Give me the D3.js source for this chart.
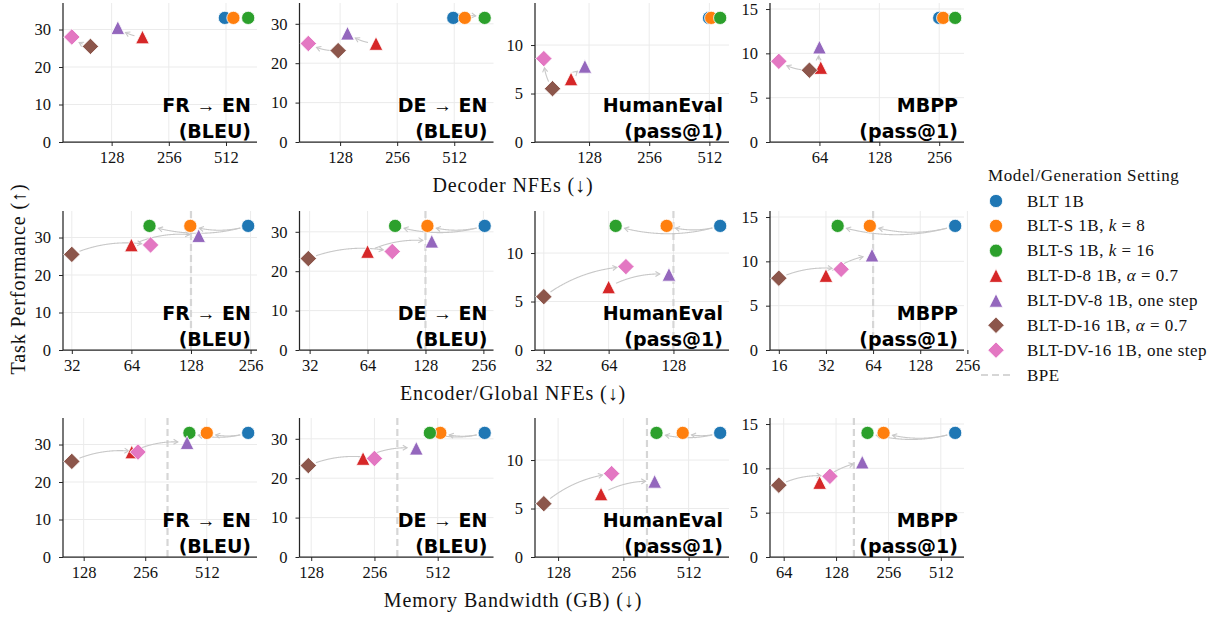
<!DOCTYPE html>
<html>
<head>
<meta charset="utf-8">
<script src="https://cdn.jsdelivr.net/npm/d3@7"></script>
<style>
  body { margin: 0; background: #fff; }
  svg { display: block; }
</style>
</head>
<body>
<svg id="chart" width="1222" height="620"></svg>
<script>
// model / generation settings, in legend order
const settings = [
  "BLT 1B",
  "BLT-S 1B, k = 8",
  "BLT-S 1B, k = 16",
  "BLT-D-8 1B, α = 0.7",
  "BLT-DV-8 1B, one step",
  "BLT-D-16 1B, α = 0.7",
  "BLT-DV-16 1B, one step"
];
const settingColors = ["#1f77b4", "#ff7f0e", "#2ca02c", "#d62728", "#9467bd", "#8c564b", "#e377c2"];
const settingShapes = ["circle", "circle", "circle", "triangle", "triangle", "diamond", "diamond"];

const taskTitles = [["FR → EN", "(BLEU)"], ["DE → EN", "(BLEU)"], ["HumanEval", "(pass@1)"], ["MBPP", "(pass@1)"]];
const rowLabels = ["Decoder NFEs (↓)", "Encoder/Global NFEs (↓)", "Memory Bandwidth (GB) (↓)"];

// task scores (same for every row)
const scoreFR = [33.1, 33.1, 33.1, 28.0, 30.5, 25.5, 28.0];
const scoreDE = [31.5, 31.5, 31.5, 25.0, 27.6, 23.2, 25.0];
const scoreHumanEval = [12.8, 12.8, 12.8, 6.5, 7.8, 5.5, 8.6];
const scoreMBPP = [14.0, 14.0, 14.0, 8.4, 10.7, 8.1, 9.1];

// decoder NFEs
const decoderFR = [505, 560, 670, 186, 138, 99, 79];
const decoderDE = [506, 582, 741, 198, 140, 125, 87];
const decoderHumanEval = [510, 523, 580, 104, 122, 84, 76];
const decoderMBPP = [256, 268, 308, 65, 64, 57, 40];

// encoder / global NFEs
const encoderFR = [249, 127, 79, 64, 140, 32, 80];
const encoderDE = [260, 131, 89, 64, 138, 31.5, 86];
const encoderHumanEval = [211, 119, 69, 64, 122, 32, 77];
const encoderMBPP = [214, 61, 38, 32, 63, 16, 40];

// memory bandwidth (GB)
const memoryFR = [816, 512, 421, 220, 410, 112, 236];
const memoryDE = [857, 527, 470, 226, 405, 124, 256];
const memoryHumanEval = [716, 481, 364, 202, 357, 110, 226];
const memoryMBPP = [619, 240, 194, 103, 181, 60, 118];

// BPE reference (null = not shown)
const bpeEncoder = [128, 128, 128, 64];
const bpeMemory = [329, 329, 329, 162];

// tick labels
const xTicksDecoder = [[128, 256, 512], [128, 256, 512], [128, 256, 512], [64, 128, 256]];
const xTicksEncoder = [[32, 64, 128, 256], [32, 64, 128, 256], [32, 64, 128], [16, 32, 64, 128, 256]];
const xTicksMemory = [[128, 256, 512], [128, 256, 512], [128, 256, 512], [64, 128, 256, 512]];
const yTicks = [[0, 10, 20, 30], [0, 10, 20, 30], [0, 5, 10], [0, 5, 10, 15]];

// arrows: [from, to] setting index
const arrowPairs = [[0, 1], [0, 2], [3, 4], [5, 6]];

const scores = [scoreFR, scoreDE, scoreHumanEval, scoreMBPP];
const rows = [
  { x: [decoderFR, decoderDE, decoderHumanEval, decoderMBPP], ticks: xTicksDecoder, bpe: [null, null, null, null] },
  { x: [encoderFR, encoderDE, encoderHumanEval, encoderMBPP], ticks: xTicksEncoder, bpe: bpeEncoder },
  { x: [memoryFR, memoryDE, memoryHumanEval, memoryMBPP], ticks: xTicksMemory, bpe: bpeMemory }
];

const panelLefts = [63, 299.5, 535, 770];
const panelTops = [3, 211, 418];
const panelW = 194;
const panelH = 139;

const serif = "'Liberation Serif', 'Times New Roman', serif";
const sans = "'DejaVu Sans', sans-serif";
const gridColor = "#ebebeb";
const spineColor = "#262626";
const arrowColor = "#c8c8c8";
const bpeColor = "#d6d6d6";

const svg = d3.select("#chart");

function markerPath(shape) {
  if (shape === "circle") {
    const r = 6.6;
    return `M${r},0A${r},${r} 0 1,1 ${-r},0A${r},${r} 0 1,1 ${r},0Z`;
  }
  if (shape === "triangle") {
    const h = 6.8;
    return `M0,${-h}L${h},${h}L${-h},${h}Z`;
  }
  const d = 8.2;
  return `M0,${-d}L${d},0L0,${d}L${-d},0Z`;
}

// quadratic curve like matplotlib's arc3, trimmed at both ends
function curvedArrow(p0, p1, rad, shrinkA, shrinkB) {
  const dx = p1[0] - p0[0];
  const dy = p1[1] - p0[1];
  const c = [(p0[0] + p1[0]) / 2 + rad * dy, (p0[1] + p1[1]) / 2 - rad * dx];
  const dist = (a, b) => Math.hypot(a[0] - b[0], a[1] - b[1]);
  return d3.range(0, 1.0001, 0.005)
    .map(t => [
      (1 - t) * (1 - t) * p0[0] + 2 * (1 - t) * t * c[0] + t * t * p1[0],
      (1 - t) * (1 - t) * p0[1] + 2 * (1 - t) * t * c[1] + t * t * p1[1]
    ])
    .filter(p => dist(p, p0) >= shrinkA && dist(p, p1) >= shrinkB);
}

function drawTitle(g, x, y, text, size) {
  const t = g.append("text")
    .attr("x", x).attr("y", y)
    .attr("text-anchor", "end")
    .style("font-family", sans)
    .style("font-weight", "bold")
    .style("font-size", size + "px")
    .attr("fill", "#000");
  const parts = text.split("→");
  if (parts.length === 1) {
    t.text(text);
    return;
  }
  t.append("tspan").text(parts[0]);
  t.append("tspan").style("font-weight", "normal").style("font-family", serif).text("→");
  t.append("tspan").text(parts[1]);
}

rows.forEach((row, ri) => {
  const top = panelTops[ri];
  const bottom = top + panelH;

  scores.forEach((score, ci) => {
    const left = panelLefts[ci];
    const right = left + panelW;
    const xs = row.x[ci];

    const lo = Math.log2(d3.min(xs));
    const hi = Math.log2(d3.max(xs));
    const pad = (hi - lo) * 0.05;
    const x = d3.scaleLog().base(2)
      .domain([Math.pow(2, lo - pad), Math.pow(2, hi + pad)])
      .range([left, right]);
    const y = d3.scaleLinear()
      .domain([0, d3.max(score) * 1.12])
      .range([bottom, top]);

    const g = svg.append("g");

    // grid
    g.selectAll(".gx").data(row.ticks[ci]).join("line")
      .attr("x1", d => x(d)).attr("x2", d => x(d))
      .attr("y1", top).attr("y2", bottom)
      .attr("stroke", gridColor).attr("stroke-width", 1);
    g.selectAll(".gy").data(yTicks[ci]).join("line")
      .attr("x1", left).attr("x2", right)
      .attr("y1", d => y(d)).attr("y2", d => y(d))
      .attr("stroke", gridColor).attr("stroke-width", 1);

    // BPE reference line
    if (row.bpe[ci] !== null) {
      g.append("line")
        .attr("x1", x(row.bpe[ci])).attr("x2", x(row.bpe[ci]))
        .attr("y1", top).attr("y2", bottom)
        .attr("stroke", bpeColor).attr("stroke-width", 2.2)
        .attr("stroke-dasharray", "7,4");
    }

    // axes
    const xAxis = g.append("g")
      .attr("transform", `translate(0,${bottom})`)
      .call(d3.axisBottom(x).tickValues(row.ticks[ci]).tickFormat(d3.format("d")).tickSizeOuter(0).tickSize(4).tickPadding(5));
    const yAxis = g.append("g")
      .attr("transform", `translate(${left},0)`)
      .call(d3.axisLeft(y).tickValues(yTicks[ci]).tickFormat(d3.format("d")).tickSizeOuter(0).tickSize(4).tickPadding(8));
    [xAxis, yAxis].forEach(ax => {
      ax.select(".domain").attr("stroke", spineColor).attr("stroke-width", 1.25);
      ax.selectAll(".tick line").attr("stroke", spineColor).attr("stroke-width", 1);
      ax.selectAll(".tick text")
        .attr("fill", "#111")
        .style("font-family", serif)
        .style("font-size", "16.5px");
    });
    xAxis.select(".domain").attr("d", `M${left},0H${right}`);
    yAxis.select(".domain").attr("d", `M0,${top}V${bottom}`);

    // arrows
    const pts = xs.map((v, i) => [x(v), y(score[i])]);
    arrowPairs.forEach(([a, b]) => {
      const curve = curvedArrow(pts[a], pts[b], 0.15, 8, 9);
      if (curve.length < 2) return;
      g.append("path")
        .attr("d", d3.line()(curve))
        .attr("fill", "none")
        .attr("stroke", arrowColor)
        .attr("stroke-width", 1.1);
      const end = curve[curve.length - 1];
      const prev = curve[Math.max(0, curve.length - 4)];
      const ang = Math.atan2(end[1] - prev[1], end[0] - prev[0]);
      const head = [ang + Math.PI * 0.83, ang - Math.PI * 0.83].map(a2 => [end[0] + 5 * Math.cos(a2), end[1] + 5 * Math.sin(a2)]);
      g.append("path")
        .attr("d", d3.line()([head[0], end, head[1]]))
        .attr("fill", "none")
        .attr("stroke", arrowColor)
        .attr("stroke-width", 1.1);
    });

    // markers
    g.selectAll(".pt").data(settings).join("path")
      .attr("transform", (d, i) => `translate(${pts[i][0]},${pts[i][1]})`)
      .attr("d", (d, i) => markerPath(settingShapes[i]))
      .attr("fill", (d, i) => settingColors[i])
      .attr("stroke", "#fff")
      .attr("stroke-width", 0.8);

    // panel title
    drawTitle(g, right - 6, bottom - 30, taskTitles[ci][0], 19);
    drawTitle(g, right - 6, bottom - 4.5, taskTitles[ci][1], 19);
  });

  svg.append("text")
    .attr("x", 513).attr("y", bottom + 50)
    .attr("text-anchor", "middle")
    .style("font-family", serif)
    .style("font-size", "20px")
    .style("letter-spacing", "0.9px")
    .attr("fill", "#111")
    .text(rowLabels[ri]);
});

svg.append("text")
  .attr("transform", "translate(25,279) rotate(-90)")
  .attr("text-anchor", "middle")
  .style("font-family", serif)
  .style("font-size", "20px")
  .style("letter-spacing", "0.9px")
  .attr("fill", "#111")
  .text("Task Performance (↑)");

// legend
const legend = svg.append("g").attr("transform", "translate(988,0)");
legend.append("text")
  .attr("x", 0).attr("y", 181)
  .style("font-family", serif)
  .style("font-size", "17px")
  .style("letter-spacing", "0.6px")
  .attr("fill", "#111")
  .text("Model/Generation Setting");

const legendY = d3.scalePoint().domain(d3.range(settings.length + 1)).range([201, 375]);

settings.forEach((name, i) => {
  legend.append("path")
    .attr("transform", `translate(8,${legendY(i)})`)
    .attr("d", markerPath(settingShapes[i]))
    .attr("fill", settingColors[i])
    .attr("stroke", "#fff")
    .attr("stroke-width", 0.8);
  const t = legend.append("text")
    .attr("x", 39).attr("y", legendY(i) + 5.5)
    .style("font-family", serif)
    .style("font-size", "17px")
    .style("letter-spacing", "0.5px")
    .attr("fill", "#111");
  const m = name.match(/^(.*, )([kα])( = .*)$/);
  if (m) {
    t.append("tspan").text(m[1]);
    t.append("tspan").style("font-style", "italic").text(m[2]);
    t.append("tspan").text(m[3]);
  } else {
    t.text(name);
  }
});

const bpeY = legendY(settings.length);
legend.append("line")
  .attr("x1", -7).attr("x2", 23)
  .attr("y1", bpeY).attr("y2", bpeY)
  .attr("stroke", bpeColor).attr("stroke-width", 2.2)
  .attr("stroke-dasharray", "7,4");
legend.append("text")
  .attr("x", 39).attr("y", bpeY + 5.5)
  .style("font-family", serif)
  .style("font-size", "17px")
  .style("letter-spacing", "0.5px")
  .attr("fill", "#111")
  .text("BPE");
</script>
</body>
</html>
